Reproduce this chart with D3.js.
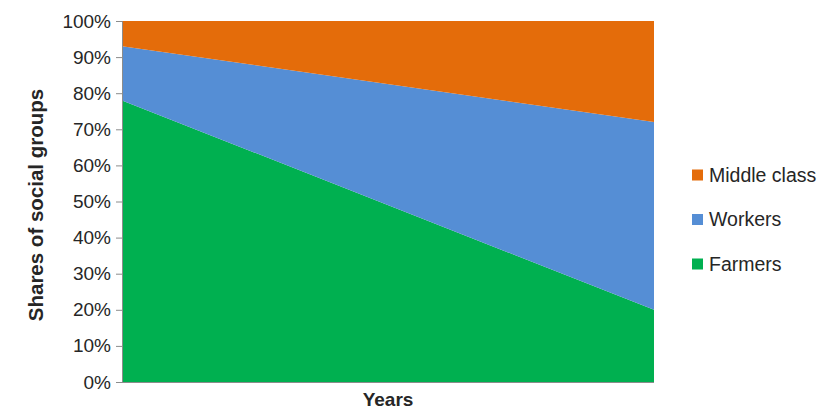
<!DOCTYPE html>
<html>
<head>
<meta charset="utf-8">
<script src="https://cdn.jsdelivr.net/npm/d3@7"></script>
<style>
  body { margin: 0; background: #fff; }
  text { font-family: "Liberation Sans", Arial, sans-serif; fill: #262626; }
</style>
</head>
<body>
<div id="container"></div>
<script>
// data (percent shares at the first and last year)
let periods = ["start", "end"];
let groups = ["Farmers", "Workers", "Middle class"];
let farmers = [78, 20];
let workers = [15, 52];
let middleClass = [7, 28];
let colors = ["#00B050", "#558ED5", "#E46C0A"];
let yTicks = [0, 10, 20, 30, 40, 50, 60, 70, 80, 90, 100];

let w = 825;
let h = 411;
let plotLeft = 122, plotRight = 654, plotTop = 21, plotBottom = 382;

let viz = d3.select("#container")
  .append("svg")
    .attr("width", w)
    .attr("height", h)
;

let table = periods.map(function(p, i){
  return { period: p, "Farmers": farmers[i], "Workers": workers[i], "Middle class": middleClass[i] };
});

let stacked = d3.stack().keys(groups)(table);

let xScale = d3.scalePoint().domain(periods).range([plotLeft, plotRight]);
let yScale = d3.scaleLinear().domain([0, 100]).range([plotBottom, plotTop]);

let areaMaker = d3.area()
  .x(function(d){ return xScale(d.data.period); })
  .y0(function(d){ return yScale(d[0]); })
  .y1(function(d){ return yScale(d[1]); })
;

viz.append("g").selectAll("path").data(stacked).enter()
  .append("path")
    .attr("d", areaMaker)
    .attr("fill", function(d, i){ return colors[i]; })
    .attr("stroke", "none")
;

// y axis
let yAxis = d3.axisLeft(yScale)
  .tickValues(yTicks)
  .tickFormat(function(d){ return d + "%"; })
  .tickSize(6)
  .tickPadding(5);
let yAxisGroup = viz.append("g")
  .attr("transform", "translate(" + plotLeft + ",0)")
  .call(yAxis);
yAxisGroup.selectAll("text").style("font-size", "19px").attr("fill", "#262626");
yAxisGroup.selectAll("line").attr("stroke", "#8c8c8c");
yAxisGroup.select(".domain").attr("stroke", "#8c8c8c");

// x axis line
viz.append("line")
  .attr("x1", plotLeft).attr("x2", plotRight)
  .attr("y1", plotBottom + 0.5).attr("y2", plotBottom + 0.5)
  .attr("stroke", "#8c8c8c");

// axis titles
viz.append("text")
  .attr("transform", "translate(43,205) rotate(-90)")
  .attr("text-anchor", "middle")
  .style("font-size", "20.5px")
  .style("font-weight", "bold")
  .attr("fill", "#000")
  .text("Shares of social groups");

viz.append("text")
  .attr("x", (plotLeft + plotRight) / 2)
  .attr("y", 406)
  .attr("text-anchor", "middle")
  .style("font-size", "19px")
  .style("font-weight", "bold")
  .attr("fill", "#000")
  .text("Years");

// legend, top entry is the top layer
let legendOrder = groups.slice().reverse();
let legend = viz.append("g").selectAll("g").data(legendOrder).enter()
  .append("g")
    .attr("transform", function(d, i){ return "translate(692," + (175 + i * 44.5) + ")"; });
legend.append("rect")
  .attr("x", 0).attr("y", -5.5)
  .attr("width", 11).attr("height", 11)
  .attr("fill", function(d){ return colors[groups.indexOf(d)]; });
legend.append("text")
  .attr("x", 17).attr("y", 0)
  .attr("dy", "0.35em")
  .style("font-size", "19.5px")
  .text(function(d){ return d; });
</script>
</body>
</html>
